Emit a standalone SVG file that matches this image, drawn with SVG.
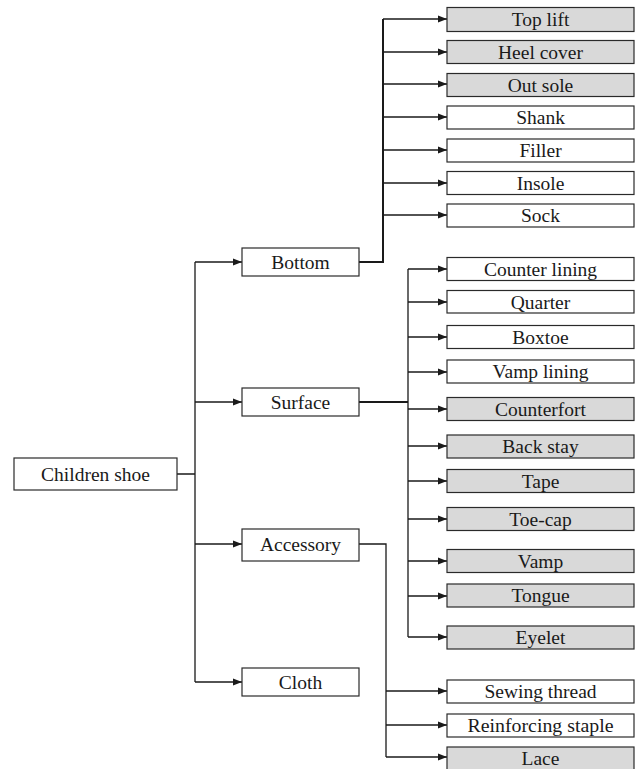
<svg xmlns="http://www.w3.org/2000/svg" width="640" height="769" viewBox="0 0 640 769">
<defs>
<marker id="ah" markerUnits="userSpaceOnUse" markerWidth="10" markerHeight="8" refX="9" refY="4" orient="auto">
<path d="M0,0.5 L9,4 L0,7.5 Z" fill="#1a1a1a"/>
</marker>
<style>
.b{fill:#fff;stroke:#2a2a2a;stroke-width:1.2}
.g{fill:#d9d9d9;stroke:#2a2a2a;stroke-width:1.2}
text{font-family:"Liberation Serif","Times New Roman",serif;font-size:19.5px;fill:#1a1a1a;text-anchor:middle}
.c{fill:none;stroke:#1a1a1a;stroke-width:1.3}
.t{fill:none;stroke:#1a1a1a;stroke-width:2}
.a{fill:none;stroke:#1a1a1a;stroke-width:1.3;marker-end:url(#ah)}
</style>
</defs>
<rect width="640" height="769" fill="#fff"/>
<g id="connectors">
<path class="c" d="M177,474 H195 M195,262 V682"/>
<path class="a" d="M195,262 H242"/>
<path class="a" d="M195,402 H242"/>
<path class="a" d="M195,544 H242"/>
<path class="a" d="M195,682 H242"/>
<path class="t" d="M359,262 H383 V19"/>
<path class="a" d="M383,19 H447"/>
<path class="a" d="M383,52 H447"/>
<path class="a" d="M383,84 H447"/>
<path class="a" d="M383,117 H447"/>
<path class="a" d="M383,150 H447"/>
<path class="a" d="M383,183 H447"/>
<path class="a" d="M383,215 H447"/>
<path class="t" d="M359,402 H408"/>
<path class="c" d="M408,269 V637"/>
<path class="a" d="M408,269 H447"/>
<path class="a" d="M408,302 H447"/>
<path class="a" d="M408,337 H447"/>
<path class="a" d="M408,372 H447"/>
<path class="a" d="M408,409 H447"/>
<path class="a" d="M408,446 H447"/>
<path class="a" d="M408,481 H447"/>
<path class="a" d="M408,519 H447"/>
<path class="a" d="M408,561 H447"/>
<path class="a" d="M408,596 H447"/>
<path class="a" d="M408,637 H447"/>
<path class="c" d="M359,544 H386 V757"/>
<path class="a" d="M386,691 H447"/>
<path class="a" d="M386,725 H447"/>
<path class="a" d="M386,757 H447"/>
</g>
<g id="children-shoe"><rect class="b" x="14" y="458" width="163" height="32"/><text x="95.5" y="481">Children shoe</text></g>
<g id="bottom"><rect class="b" x="242" y="248" width="117" height="28"/><text x="300.5" y="269">Bottom</text></g>
<g id="surface"><rect class="b" x="242" y="388" width="117" height="28"/><text x="300.5" y="409">Surface</text></g>
<g id="accessory"><rect class="b" x="242" y="529" width="117" height="32"/><text x="300.5" y="551">Accessory</text></g>
<g id="cloth"><rect class="b" x="242" y="668" width="117" height="28"/><text x="300.5" y="689">Cloth</text></g>
<g id="top-lift"><rect class="g" x="447" y="7.5" width="187" height="24"/><text x="540.5" y="26">Top lift</text></g>
<g id="heel-cover"><rect class="g" x="447" y="40.5" width="187" height="23"/><text x="540.5" y="58.5">Heel cover</text></g>
<g id="out-sole"><rect class="g" x="447" y="73.5" width="187" height="23"/><text x="540.5" y="91.5">Out sole</text></g>
<g id="shank"><rect class="b" x="447" y="106" width="187" height="23"/><text x="540.5" y="124">Shank</text></g>
<g id="filler"><rect class="b" x="447" y="139" width="187" height="23"/><text x="540.5" y="157">Filler</text></g>
<g id="insole"><rect class="b" x="447" y="171.5" width="187" height="23"/><text x="540.5" y="189.5">Insole</text></g>
<g id="sock"><rect class="b" x="447" y="204" width="187" height="23"/><text x="540.5" y="222">Sock</text></g>
<g id="counter-lining"><rect class="b" x="447" y="257.5" width="187" height="23"/><text x="540.5" y="275.5">Counter lining</text></g>
<g id="quarter"><rect class="b" x="447" y="290.5" width="187" height="22.5"/><text x="540.5" y="308.5">Quarter</text></g>
<g id="boxtoe"><rect class="b" x="447" y="325.5" width="187" height="23"/><text x="540.5" y="343.5">Boxtoe</text></g>
<g id="vamp-lining"><rect class="b" x="447" y="360" width="187" height="23"/><text x="540.5" y="378">Vamp lining</text></g>
<g id="counterfort"><rect class="g" x="447" y="397.5" width="187" height="23"/><text x="540.5" y="415.5">Counterfort</text></g>
<g id="back-stay"><rect class="g" x="447" y="435" width="187" height="23"/><text x="540.5" y="453">Back stay</text></g>
<g id="tape"><rect class="g" x="447" y="469.5" width="187" height="23"/><text x="540.5" y="487.5">Tape</text></g>
<g id="toe-cap"><rect class="g" x="447" y="507.5" width="187" height="23"/><text x="540.5" y="525.5">Toe-cap</text></g>
<g id="vamp"><rect class="g" x="447" y="549.5" width="187" height="23"/><text x="540.5" y="567.5">Vamp</text></g>
<g id="tongue"><rect class="g" x="447" y="584" width="187" height="23"/><text x="540.5" y="602">Tongue</text></g>
<g id="eyelet"><rect class="g" x="447" y="626" width="187" height="23"/><text x="540.5" y="644">Eyelet</text></g>
<g id="sewing-thread"><rect class="b" x="447" y="680" width="187" height="23"/><text x="540.5" y="698">Sewing thread</text></g>
<g id="reinforcing-staple"><rect class="b" x="447" y="714" width="187" height="23"/><text x="540.5" y="732" textLength="146" lengthAdjust="spacingAndGlyphs">Reinforcing staple</text></g>
<g id="lace"><rect class="g" x="447" y="747" width="187" height="24"/><text x="540.5" y="765">Lace</text></g>
</svg>
